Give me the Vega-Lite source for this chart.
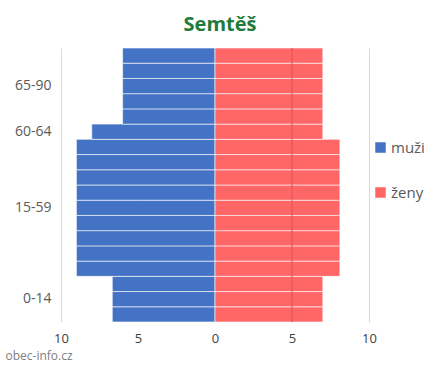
{
  "$schema": "https://vega.github.io/schema/vega-lite/v6.json",
  "autosize": {"type": "none"},
  "padding": {"left": 61, "top": 48, "right": 74, "bottom": 43},
  "width": 308,
  "height": 274,
  "background": "white",
  "config": {
    "view": {"stroke": null},
    "font": "Open Sans"
  },
  "title": {
    "text": "Semtěš",
    "font": "Open Sans",
    "fontSize": 20,
    "fontWeight": "bold",
    "color": "#1E7B3C",
    "anchor": "middle",
    "frame": "group",
    "dx": 5,
    "baseline": "alphabetic",
    "offset": -3
  },
  "data": {
    "values": [
      {"age": "0-4", "idx": 1, "sex": "muži", "count": 6.67},
      {"age": "5-9", "idx": 2, "sex": "muži", "count": 6.67},
      {"age": "10-14", "idx": 3, "sex": "muži", "count": 6.67},
      {"age": "15-19", "idx": 4, "sex": "muži", "count": 9},
      {"age": "20-24", "idx": 5, "sex": "muži", "count": 9},
      {"age": "25-29", "idx": 6, "sex": "muži", "count": 9},
      {"age": "30-34", "idx": 7, "sex": "muži", "count": 9},
      {"age": "35-39", "idx": 8, "sex": "muži", "count": 9},
      {"age": "40-44", "idx": 9, "sex": "muži", "count": 9},
      {"age": "45-49", "idx": 10, "sex": "muži", "count": 9},
      {"age": "50-54", "idx": 11, "sex": "muži", "count": 9},
      {"age": "55-59", "idx": 12, "sex": "muži", "count": 9},
      {"age": "60-64", "idx": 13, "sex": "muži", "count": 8},
      {"age": "65-69", "idx": 14, "sex": "muži", "count": 6},
      {"age": "70-74", "idx": 15, "sex": "muži", "count": 6},
      {"age": "75-79", "idx": 16, "sex": "muži", "count": 6},
      {"age": "80-84", "idx": 17, "sex": "muži", "count": 6},
      {"age": "85-89", "idx": 18, "sex": "muži", "count": 6},
      {"age": "0-4", "idx": 1, "sex": "ženy", "count": 7},
      {"age": "5-9", "idx": 2, "sex": "ženy", "count": 7},
      {"age": "10-14", "idx": 3, "sex": "ženy", "count": 7},
      {"age": "15-19", "idx": 4, "sex": "ženy", "count": 8.11},
      {"age": "20-24", "idx": 5, "sex": "ženy", "count": 8.11},
      {"age": "25-29", "idx": 6, "sex": "ženy", "count": 8.11},
      {"age": "30-34", "idx": 7, "sex": "ženy", "count": 8.11},
      {"age": "35-39", "idx": 8, "sex": "ženy", "count": 8.11},
      {"age": "40-44", "idx": 9, "sex": "ženy", "count": 8.11},
      {"age": "45-49", "idx": 10, "sex": "ženy", "count": 8.11},
      {"age": "50-54", "idx": 11, "sex": "ženy", "count": 8.11},
      {"age": "55-59", "idx": 12, "sex": "ženy", "count": 8.11},
      {"age": "60-64", "idx": 13, "sex": "ženy", "count": 7},
      {"age": "65-69", "idx": 14, "sex": "ženy", "count": 7},
      {"age": "70-74", "idx": 15, "sex": "ženy", "count": 7},
      {"age": "75-79", "idx": 16, "sex": "ženy", "count": 7},
      {"age": "80-84", "idx": 17, "sex": "ženy", "count": 7},
      {"age": "85-89", "idx": 18, "sex": "ženy", "count": 7}
    ]
  },
  "layer": [
    {
      "transform": [
        {"calculate": "datum.sex == 'muži' ? -datum.count : datum.count", "as": "value"}
      ],
      "mark": {"type": "bar", "stroke": "white", "strokeOpacity": 0.6, "strokeWidth": 1},
      "encoding": {
        "y": {
          "field": "age",
          "type": "ordinal",
          "sort": {"field": "idx", "order": "descending"},
          "scale": {"paddingInner": 0, "paddingOuter": 0},
          "axis": {
            "title": null,
            "ticks": false,
            "domain": false,
            "labelPadding": 10,
            "labelFontSize": 14,
            "labelColor": "#595959",
            "labelExpr": "datum.value == '5-9' ? '0-14' : datum.value == '35-39' ? '15-59' : datum.value == '60-64' ? '60-64' : datum.value == '75-79' ? '65-90' : ''"
          }
        },
        "x": {
          "field": "value",
          "type": "quantitative",
          "scale": {"domain": [-10, 10], "nice": false},
          "axis": {
            "values": [-10, -5, 0, 5, 10],
            "labelExpr": "abs(datum.value)",
            "labelFlush": false,
            "grid": true,
            "gridColor": "#d9d9d9",
            "domain": false,
            "ticks": false,
            "labelPadding": 10,
            "labelFontSize": 13,
            "labelColor": "#404040",
            "title": "obec-info.cz",
            "titleAnchor": "start",
            "titleAlign": "left",
            "titleX": -56,
            "titleY": 37,
            "titleBaseline": "alphabetic",
            "titleFontSize": 12,
            "titleFontWeight": "normal",
            "titleColor": "#808080"
          }
        },
        "color": {
          "field": "sex",
          "type": "nominal",
          "scale": {"domain": ["muži", "ženy"], "range": ["#4472C4", "#FF6666"]},
          "legend": {
            "title": null,
            "orient": "none",
            "legendX": 312,
            "legendY": 92,
            "symbolType": "square",
            "symbolSize": 110,
            "symbolStrokeWidth": 0,
            "symbolOpacity": 1,
            "labelFontSize": 15,
            "labelColor": "#595959",
            "rowPadding": 29,
            "labelOffset": 3
          }
        }
      }
    },
    {
      "data": {"values": [{"g": 5}]},
      "mark": {"type": "rule", "color": "#D35858", "strokeWidth": 1},
      "encoding": {
        "x": {"field": "g", "type": "quantitative"}
      }
    }
  ]
}
